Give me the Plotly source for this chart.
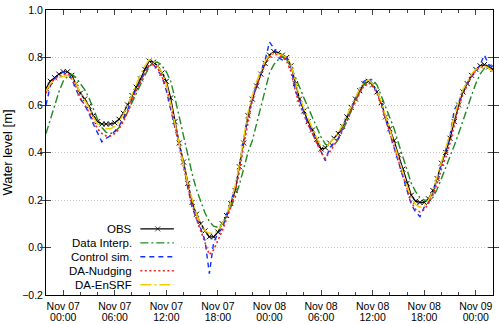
import pandas as pd
import plotly.graph_objects as go

# half-hourly samples, Nov 06 22:00 .. Nov 09 02:00
times = pd.date_range("2019-11-06 22:00", "2019-11-09 02:00", freq="30min")

obs = [
    0.67, 0.70, 0.715, 0.73,
    # Nov 07
    0.74, 0.74, 0.725, 0.69, 0.65, 0.625, 0.595, 0.555, 0.53, 0.52,
    0.52, 0.52, 0.525, 0.54, 0.565, 0.60, 0.64, 0.675, 0.71, 0.75,
    0.785, 0.78, 0.765, 0.735, 0.70, 0.63, 0.53, 0.44, 0.36, 0.27,
    0.19, 0.14, 0.10, 0.07, 0.045, 0.045, 0.065, 0.10, 0.135, 0.185,
    0.24, 0.34, 0.44, 0.555, 0.625, 0.68, 0.73, 0.775,
    # Nov 08
    0.81, 0.825, 0.82, 0.81, 0.80, 0.765, 0.69, 0.625, 0.575, 0.53,
    0.495, 0.455, 0.415, 0.42, 0.44, 0.46, 0.48, 0.51, 0.55, 0.59,
    0.625, 0.66, 0.69, 0.70, 0.685, 0.655, 0.61, 0.55, 0.50, 0.45,
    0.39, 0.33, 0.27, 0.22, 0.195, 0.19, 0.19, 0.205, 0.24, 0.29,
    0.355, 0.40, 0.46, 0.53, 0.60, 0.655, 0.69, 0.725,
    # Nov 09
    0.75, 0.765, 0.77, 0.76, 0.75,
]

data_interp = [
    0.48, 0.54, 0.60, 0.655,
    0.70, 0.72, 0.73, 0.715, 0.69, 0.665, 0.63, 0.585, 0.54, 0.505,
    0.485, 0.48, 0.485, 0.505, 0.535, 0.57, 0.61, 0.65, 0.69, 0.725,
    0.76, 0.78, 0.78, 0.765, 0.74, 0.70, 0.63, 0.55, 0.47, 0.385,
    0.31, 0.245, 0.19, 0.145, 0.11, 0.09, 0.085, 0.10, 0.13, 0.17,
    0.21, 0.265, 0.33, 0.40, 0.45, 0.52, 0.59, 0.665,
    0.735, 0.77, 0.79, 0.805, 0.79, 0.76, 0.72, 0.675, 0.63, 0.59,
    0.545, 0.505, 0.465, 0.435, 0.425, 0.43, 0.455, 0.49, 0.53, 0.575,
    0.62, 0.655, 0.685, 0.71, 0.705, 0.685, 0.64, 0.59, 0.545, 0.50,
    0.44, 0.38, 0.32, 0.27, 0.235, 0.21, 0.20, 0.195, 0.21, 0.245,
    0.29, 0.335, 0.38, 0.43, 0.48, 0.53, 0.585, 0.64,
    0.69, 0.73, 0.755, 0.765, 0.765,
]

control_sim = [
    0.60, 0.68, 0.71, 0.725,
    0.74, 0.735, 0.71, 0.665, 0.625, 0.60, 0.565, 0.52, 0.48, 0.445,
    0.46, 0.47, 0.49, 0.51, 0.545, 0.58, 0.625, 0.67, 0.70, 0.74,
    0.765, 0.77, 0.745, 0.72, 0.66, 0.58, 0.50, 0.42, 0.35, 0.25,
    0.17, 0.12, 0.08, 0.03, -0.11, 0.02, 0.06, 0.08, 0.14, 0.19,
    0.25, 0.35, 0.45, 0.56, 0.63, 0.69, 0.74, 0.79,
    0.865, 0.84, 0.80, 0.79, 0.80, 0.76, 0.66, 0.62, 0.57, 0.52,
    0.48, 0.44, 0.40, 0.365, 0.42, 0.44, 0.46, 0.50, 0.55, 0.59,
    0.625, 0.67, 0.70, 0.71, 0.69, 0.655, 0.61, 0.54, 0.48, 0.43,
    0.37, 0.31, 0.24, 0.18, 0.15, 0.13, 0.17, 0.19, 0.23, 0.29,
    0.35, 0.40, 0.47, 0.58, 0.61, 0.66, 0.69, 0.72,
    0.74, 0.77, 0.81, 0.77, 0.76,
]

da_nudging = [
    0.65, 0.69, 0.71, 0.72,
    0.73, 0.73, 0.71, 0.675, 0.63, 0.60, 0.57, 0.53, 0.50, 0.48,
    0.47, 0.47, 0.48, 0.50, 0.53, 0.57, 0.62, 0.66, 0.70, 0.74,
    0.77, 0.77, 0.755, 0.72, 0.68, 0.60, 0.51, 0.42, 0.34, 0.26,
    0.18, 0.12, 0.07, 0.02, -0.03, -0.01, 0.03, 0.07, 0.12, 0.17,
    0.23, 0.32, 0.43, 0.53, 0.62, 0.68, 0.73, 0.77,
    0.80, 0.82, 0.81, 0.80, 0.785, 0.74, 0.66, 0.60, 0.56, 0.515,
    0.48, 0.44, 0.40, 0.375, 0.40, 0.43, 0.46, 0.495, 0.53, 0.575,
    0.615, 0.65, 0.68, 0.695, 0.68, 0.65, 0.60, 0.54, 0.48, 0.42,
    0.36, 0.30, 0.24, 0.19, 0.16, 0.15, 0.16, 0.185, 0.22, 0.27,
    0.33, 0.38, 0.44, 0.52, 0.59, 0.645, 0.685, 0.72,
    0.745, 0.76, 0.765, 0.755, 0.745,
]

da_ensrf = [
    0.66, 0.69, 0.705, 0.715,
    0.72, 0.725, 0.715, 0.69, 0.65, 0.62, 0.59, 0.55, 0.52, 0.505,
    0.50, 0.50, 0.51, 0.53, 0.56, 0.60, 0.645, 0.69, 0.73, 0.765,
    0.79, 0.785, 0.765, 0.735, 0.69, 0.61, 0.52, 0.43, 0.35, 0.27,
    0.20, 0.14, 0.10, 0.07, 0.06, 0.06, 0.07, 0.10, 0.14, 0.19,
    0.26, 0.35, 0.46, 0.57, 0.64, 0.70, 0.745, 0.785,
    0.81, 0.82, 0.815, 0.81, 0.80, 0.77, 0.70, 0.635, 0.585, 0.54,
    0.50, 0.46, 0.425, 0.42, 0.44, 0.46, 0.485, 0.515, 0.555, 0.595,
    0.635, 0.67, 0.695, 0.705, 0.69, 0.66, 0.615, 0.555, 0.50, 0.44,
    0.38, 0.32, 0.26, 0.21, 0.18, 0.17, 0.175, 0.20, 0.24, 0.30,
    0.36, 0.41, 0.48, 0.55, 0.615, 0.665, 0.70, 0.73,
    0.75, 0.76, 0.765, 0.755, 0.74,
]

series_names = ["OBS", "Data Interp.", "Control sim.", "DA-Nudging", "DA-EnSRF"]
series_values = [obs, data_interp, control_sim, da_nudging, da_ensrf]

styles = {
    "OBS": dict(color="black", dash="solid", width=1.2),
    "Data Interp.": dict(color="#1f8a1f", dash="8px,3px,2px,3px", width=1.4),
    "Control sim.": dict(color="#1030ff", dash="5px,4px", width=1.4),
    "DA-Nudging": dict(color="#ff2020", dash="2px,2.5px", width=1.6),
    "DA-EnSRF": dict(color="#f2d000", dash="11px,3px,2px,3px", width=1.4),
}

font = "Liberation Sans, Arial, sans-serif"
x_range = ["2019-11-06 22:00", "2019-11-09 02:00"]
six_hours = 6 * 3600 * 1000

fig = go.Figure()

for name, values in zip(series_names, series_values):
    st = styles[name]
    fig.add_trace(
        go.Scatter(
            x=times,
            y=values,
            mode="lines+markers" if name == "OBS" else "lines",
            name=name,
            line=dict(color=st["color"], width=st["width"], dash=st["dash"]),
            marker=dict(symbol="x-thin", size=5, line=dict(color=st["color"], width=1)),
            showlegend=False,
        )
    )

# empty trace so the second row of date labels (hours) gets drawn
fig.add_trace(go.Scatter(x=times, y=[None] * len(times), xaxis="x3", showlegend=False, hoverinfo="skip"))

# hand-made key: white box, label on the left, sample line on the right
fig.add_trace(
    go.Scatter(
        x=[0.003, 0.30, 0.30, 0.003, 0.003],
        y=[0.004, 0.004, 0.27, 0.27, 0.004],
        mode="lines",
        fill="toself",
        fillcolor="white",
        line=dict(width=0),
        xaxis="x2",
        yaxis="y2",
        hoverinfo="skip",
        showlegend=False,
    )
)
for i, name in enumerate(series_names):
    st = styles[name]
    yy = 0.232 - 0.049 * i
    fig.add_trace(
        go.Scatter(
            x=[0.211, 0.25, 0.286],
            y=[yy, yy, yy],
            mode="lines+markers" if name == "OBS" else "lines",
            line=dict(color=st["color"], width=st["width"], dash=st["dash"]),
            marker=dict(symbol="x-thin", size=[0, 5, 0], line=dict(color=st["color"], width=1)),
            xaxis="x2",
            yaxis="y2",
            hoverinfo="skip",
            showlegend=False,
        )
    )
    fig.add_annotation(
        xref="paper", yref="paper", x=0.197, y=yy,
        text=name, showarrow=False, xanchor="right", yanchor="middle",
        font=dict(size=11.5, color="black", family=font),
    )

fig.update_layout(
    width=500,
    height=324,
    margin=dict(l=46, r=7, t=10, b=29),
    paper_bgcolor="white",
    plot_bgcolor="white",
    font=dict(family=font, size=11, color="black"),
    showlegend=False,
    xaxis=dict(
        range=x_range,
        tick0="2019-11-07 00:00",
        dtick=six_hours,
        tickformat="%b %d",
        tickfont=dict(size=10.5),
        ticks="inside",
        ticklen=5,
        showline=True,
        linecolor="black",
        linewidth=1,
        mirror="allticks",
        showgrid=False,
        zeroline=False,
        automargin=False,
        ticklabelstandoff=1,
        minor=dict(ticks="inside", ticklen=3, dtick=2 * 3600 * 1000, tick0="2019-11-07 00:00", showgrid=False),
    ),
    xaxis3=dict(
        overlaying="x",
        anchor="y",
        side="bottom",
        range=x_range,
        tick0="2019-11-07 00:00",
        dtick=six_hours,
        tickformat="%H:%M",
        tickfont=dict(size=10.5),
        ticks="",
        showline=False,
        showgrid=False,
        zeroline=False,
        automargin=False,
        ticklabelstandoff=14,
        fixedrange=True,
    ),
    yaxis=dict(
        range=[-0.2, 1.0],
        dtick=0.2,
        tickformat=".1f",
        tickfont=dict(size=10.5),
        ticks="inside",
        ticklen=5,
        showline=True,
        linecolor="black",
        linewidth=1,
        mirror="allticks",
        showgrid=True,
        gridcolor="#c4c4c4",
        griddash="1px,2px",
        gridwidth=1,
        zeroline=False,
        automargin=False,
        title=dict(text="Water level [m]", font=dict(size=13), standoff=6),
    ),
    xaxis2=dict(overlaying="x", range=[0, 1], visible=False, fixedrange=True),
    yaxis2=dict(overlaying="y", range=[0, 1], visible=False, fixedrange=True),
)

# the page's default body margin would shift the 500x324 figure
fig.write_html(
    "out.html",
    config={"displayModeBar": False},
    post_script="document.body.style.margin='0';",
)
